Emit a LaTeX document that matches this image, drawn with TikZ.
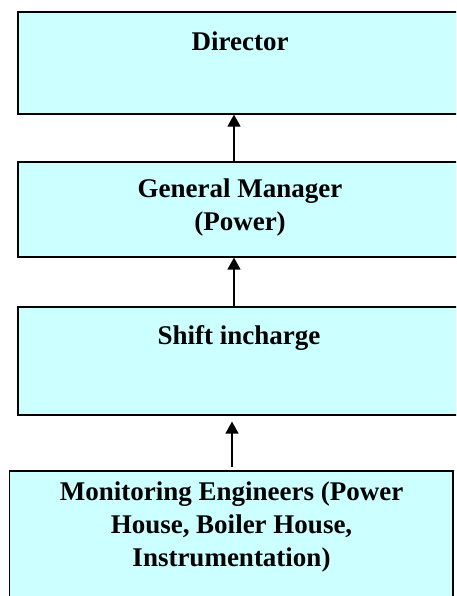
\documentclass[tikz,border=0pt]{standalone}
\usepackage{fontspec}
\setmainfont{Liberation Serif}
\usetikzlibrary{arrows.meta}

\definecolor{postfill}{RGB}{204,255,255}

\tikzset{
  post/.style={draw=black, fill=postfill, line width=1.2pt, inner sep=0pt},
  posttext/.style={anchor=north, inner sep=0pt, align=center,
    font=\fontsize{27}{33}\selectfont\bfseries},
  upline/.style={-{Triangle[length=12pt,width=13pt]}, line width=1.3pt}
}

\begin{document}
\begin{tikzpicture}[x=1pt,y=1pt]
      \def\w{444}
      \useasboundingbox (0,0) rectangle (456,-596);
      \clip (0,0) rectangle (456,-596);
      % boxes
      \node[post, minimum width=\w, minimum height=102] (director) at (240,-63) {};
      \node[post, minimum width=\w, minimum height=95] (gm) at (240,-209.5) {};
      \node[post, minimum width=\w, minimum height=108] (shift) at (240,-361) {};
      \node[post, minimum width=443.5, minimum height=150] (eng) at (231.25,-546) {};
      % texts
      \node[posttext] (directortext) at (240,-31.3) {Director};
      \node[posttext] (gmtext) at (240,-178.3) {General Manager\\(Power)};
      \node[posttext] (shifttext) at (239,-325.3) {Shift incharge};
      \node[posttext] (engtext) at (231.5,-481.3)
        {Monitoring Engineers (Power\\House, Boiler House,\\Instrumentation)};
      % reporting lines
      \draw[upline] (234,0 |- gm.north) -- (234,0 |- director.south);
      \draw[upline] (234,0 |- shift.north) -- (234,0 |- gm.south);
      \draw[upline, shorten <=3pt, shorten >=6pt] (232,0 |- eng.north) -- (232,0 |- shift.south);
\end{tikzpicture}
\end{document}
